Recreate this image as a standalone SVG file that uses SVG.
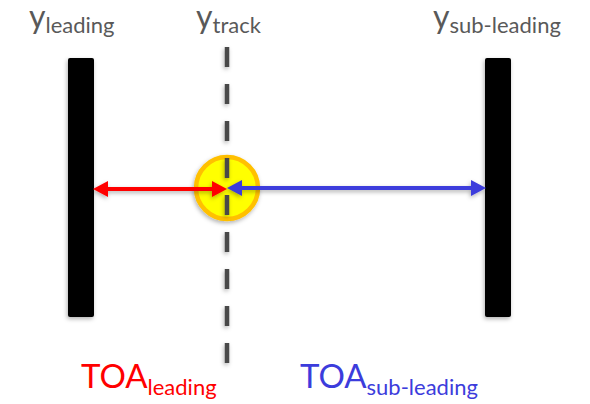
<svg xmlns="http://www.w3.org/2000/svg" width="590" height="404" viewBox="0 0 590 404">
<style>
  .lbl { font-family: Lato, "Liberation Sans", sans-serif; fill: #595959; }
  .toa { font-family: Lato, "Liberation Sans", sans-serif; }
  .bar { fill: #000000; }
  .track { stroke: #4a4a4a; stroke-width: 4.5; stroke-dasharray: 20 17; fill: none; }
  .red { stroke: #ff0000; stroke-width: 4; fill: none; }
  .blue { stroke: #3c3cdc; stroke-width: 4; fill: none; }
</style>
<defs>
  <filter id="sh" filterUnits="userSpaceOnUse" x="0" y="0" width="590" height="404">
    <feDropShadow dx="-1" dy="2" stdDeviation="2" flood-color="#000" flood-opacity="0.3"/>
  </filter>
  <marker id="ahRed" markerUnits="userSpaceOnUse" markerWidth="16" markerHeight="16" viewBox="0 0 16 16" refX="5" refY="8" orient="auto-start-reverse">
    <path d="M0,0 L15,8 L0,16 z" fill="#ff0000"/>
  </marker>
  <marker id="ahBlue" markerUnits="userSpaceOnUse" markerWidth="16" markerHeight="16" viewBox="0 0 16 16" refX="5" refY="8" orient="auto-start-reverse">
    <path d="M0,0 L15,8 L0,16 z" fill="#3c3cdc"/>
  </marker>
</defs>

<g id="leading-bar" filter="url(#sh)">
  <rect class="bar" x="68" y="58" width="26" height="259" rx="2"/>
</g>
<g id="subleading-bar" filter="url(#sh)">
  <rect class="bar" x="485" y="58" width="26" height="259" rx="2"/>
</g>
<g id="track-point" filter="url(#sh)">
  <circle cx="227" cy="188" r="31" fill="#ffff00" stroke="#ffc000" stroke-width="4.5"/>
</g>
<g id="track-line" filter="url(#sh)">
  <line class="track" x1="227" y1="47" x2="227" y2="365"/>
</g>

<g id="connectors" filter="url(#sh)">
  <line class="red" x1="103" y1="189" x2="217" y2="189" marker-start="url(#ahRed)" marker-end="url(#ahRed)"/>
  <line class="blue" x1="237" y1="188" x2="476" y2="188" marker-start="url(#ahBlue)" marker-end="url(#ahBlue)"/>
</g>

<g id="label-yleading">
  <text class="lbl" x="29" y="28" font-size="32">y<tspan font-size="22" dy="5">leading</tspan></text>
</g>
<g id="label-ytrack">
  <text class="lbl" x="196" y="28" font-size="32">y<tspan font-size="22" dy="5">track</tspan></text>
</g>
<g id="label-ysubleading">
  <text class="lbl" x="433" y="28" font-size="32">y<tspan font-size="22" dy="5">sub-leading</tspan></text>
</g>
<g id="label-toa-leading">
  <text class="toa" x="81" y="388" font-size="33" fill="#ff0000">TOA<tspan font-size="22" dy="7">leading</tspan></text>
</g>
<g id="label-toa-subleading">
  <text class="toa" x="300" y="388" font-size="33" fill="#3c3cdc">TOA<tspan font-size="22" dy="7">sub-leading</tspan></text>
</g>
</svg>
